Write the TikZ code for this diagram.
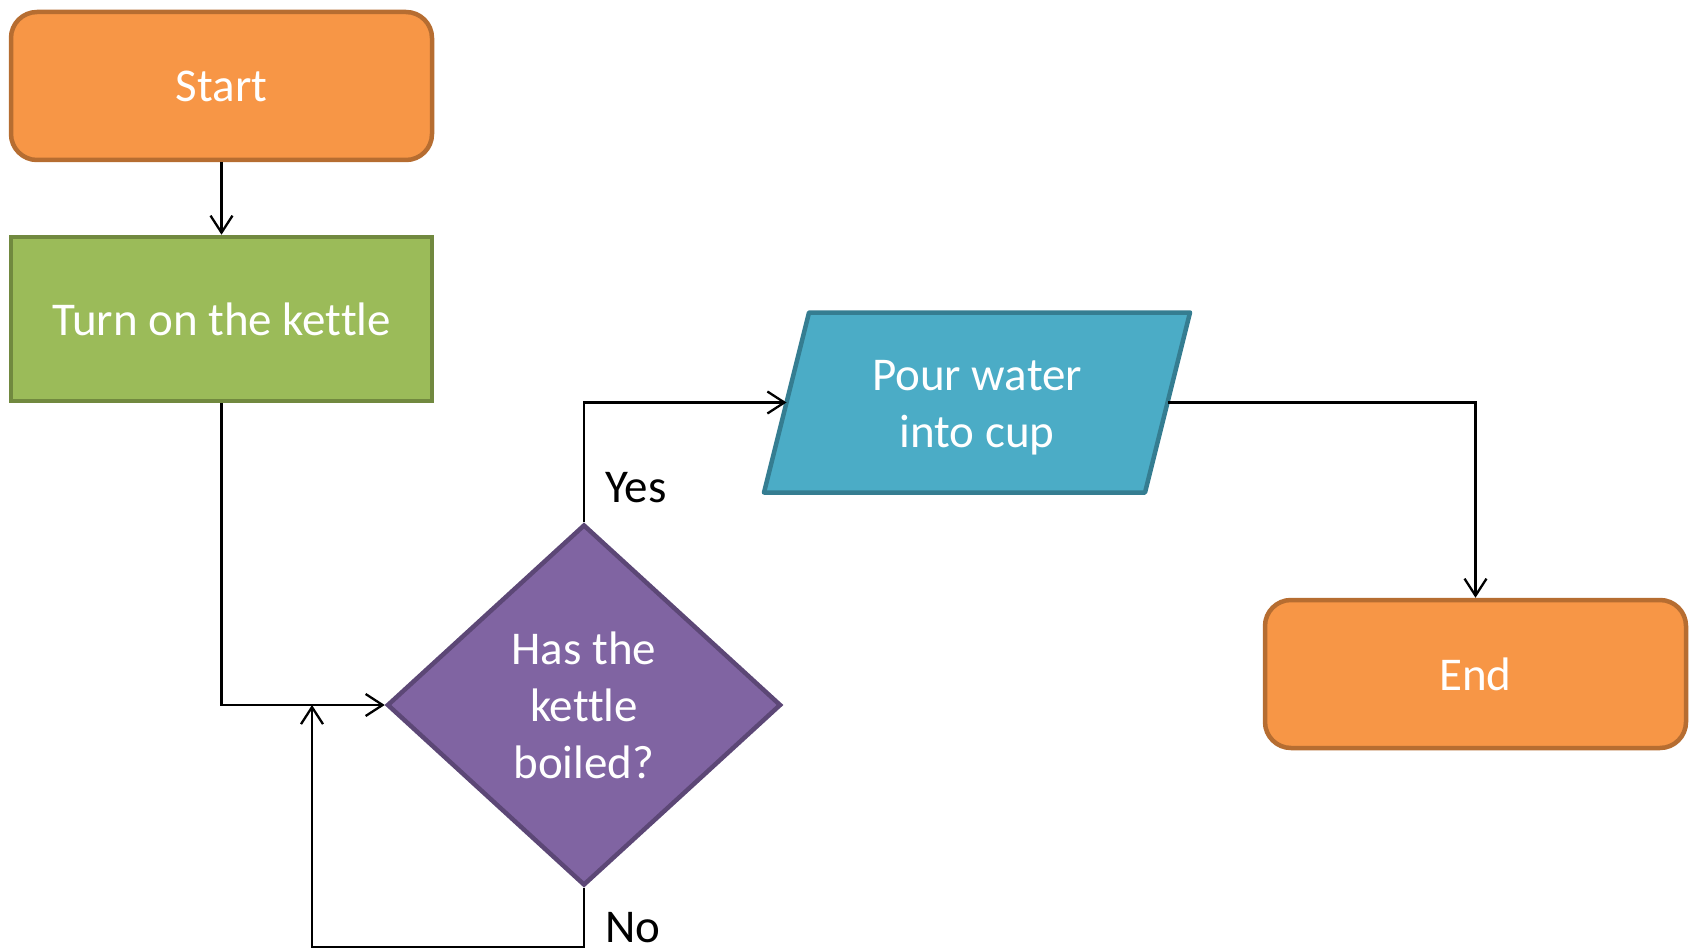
\documentclass[tikz,border=0pt]{standalone}
\usepackage{fontspec}
\setmainfont{Carlito}[Ligatures=NoCommon]
\usetikzlibrary{shapes.geometric,arrows.meta,backgrounds}
\definecolor{orangefill}{HTML}{F79646}
\definecolor{orangeline}{HTML}{B66D31}
\definecolor{greenfill}{HTML}{9BBB59}
\definecolor{greenline}{HTML}{71893F}
\definecolor{purplefill}{HTML}{8064A2}
\definecolor{purpleline}{HTML}{5C4776}
\definecolor{bluefill}{HTML}{4BACC6}
\definecolor{blueline}{HTML}{357D91}
\begin{document}
\begin{tikzpicture}[x=1pt,y=-1pt,
  boxtext/.style={text=white, font=\fontsize{47}{57}\selectfont, align=center, inner sep=0pt},
  box/.style={boxtext, draw, line width=4.5pt},
  terminal/.style={box, rounded corners=26pt, fill=orangefill, draw=orangeline,
    minimum width=421pt, minimum height=148pt},
  process/.style={box, fill=greenfill, draw=greenline,
    minimum width=421pt, minimum height=164pt},
  decision/.style={box, shape=diamond, fill=purplefill, draw=purpleline,
    minimum width=394pt, minimum height=361pt},
  io/.style={boxtext, outer sep=2.25pt, minimum width=376.5pt, minimum height=175.5pt},
  ioshape/.style={fill=bluefill, draw=blueline, line width=4.5pt, line join=round},
  label/.style={font=\fontsize{47}{57}\selectfont, inner sep=0pt},
  flow/.style={draw=black, line width=2.3pt,
    -{Straight Barb[length=17pt,width=22pt,line width=2.3pt]}},
]
\useasboundingbox (0,0) rectangle (1690,952);

% shapes
\node[terminal] (start) at (221.5,86) {Start};
\node[process]  (kettle) at (221.5,319) {Turn on the kettle};
\node[decision] (boiled) at (584,705) {Has the\\kettle\\boiled?};
\node[io]       (pour) at (977,402.5)
  {\raisebox{-5pt}[\height][\depth]{\begin{tabular}{@{}c@{}}Pour water\\into cup\end{tabular}}};
\node[terminal] (end) at (1475.5,674) {End};

% slanted input/output outline behind the text of "pour"
\begin{pgfonlayer}{background}
  \draw[ioshape]
    ([xshift=-22.5pt]pour.south west) -- ([xshift=22.5pt]pour.north west)
    -- ([xshift=22.5pt]pour.north east) -- ([xshift=-22.5pt]pour.south east) -- cycle;
\end{pgfonlayer}

% loop-back points for the "No" branch
\coordinate (loopbottom) at (312,947);
\coordinate (merge) at (312,705);

% connectors
\draw[flow] (start.south) -- (kettle.north);
\draw[flow] (kettle.south) |- (boiled.west);
\draw[flow] (boiled.north) |- (pour.west);
\draw[flow] (pour.east) -| (end.north);
\draw[flow] (boiled.south) |- (loopbottom) -- (merge);

% branch labels
\node[label, anchor=base west] (yes) at (605,502) {Yes};
\node[label, anchor=base west] (no) at (605,942) {No};
\end{tikzpicture}
\end{document}
